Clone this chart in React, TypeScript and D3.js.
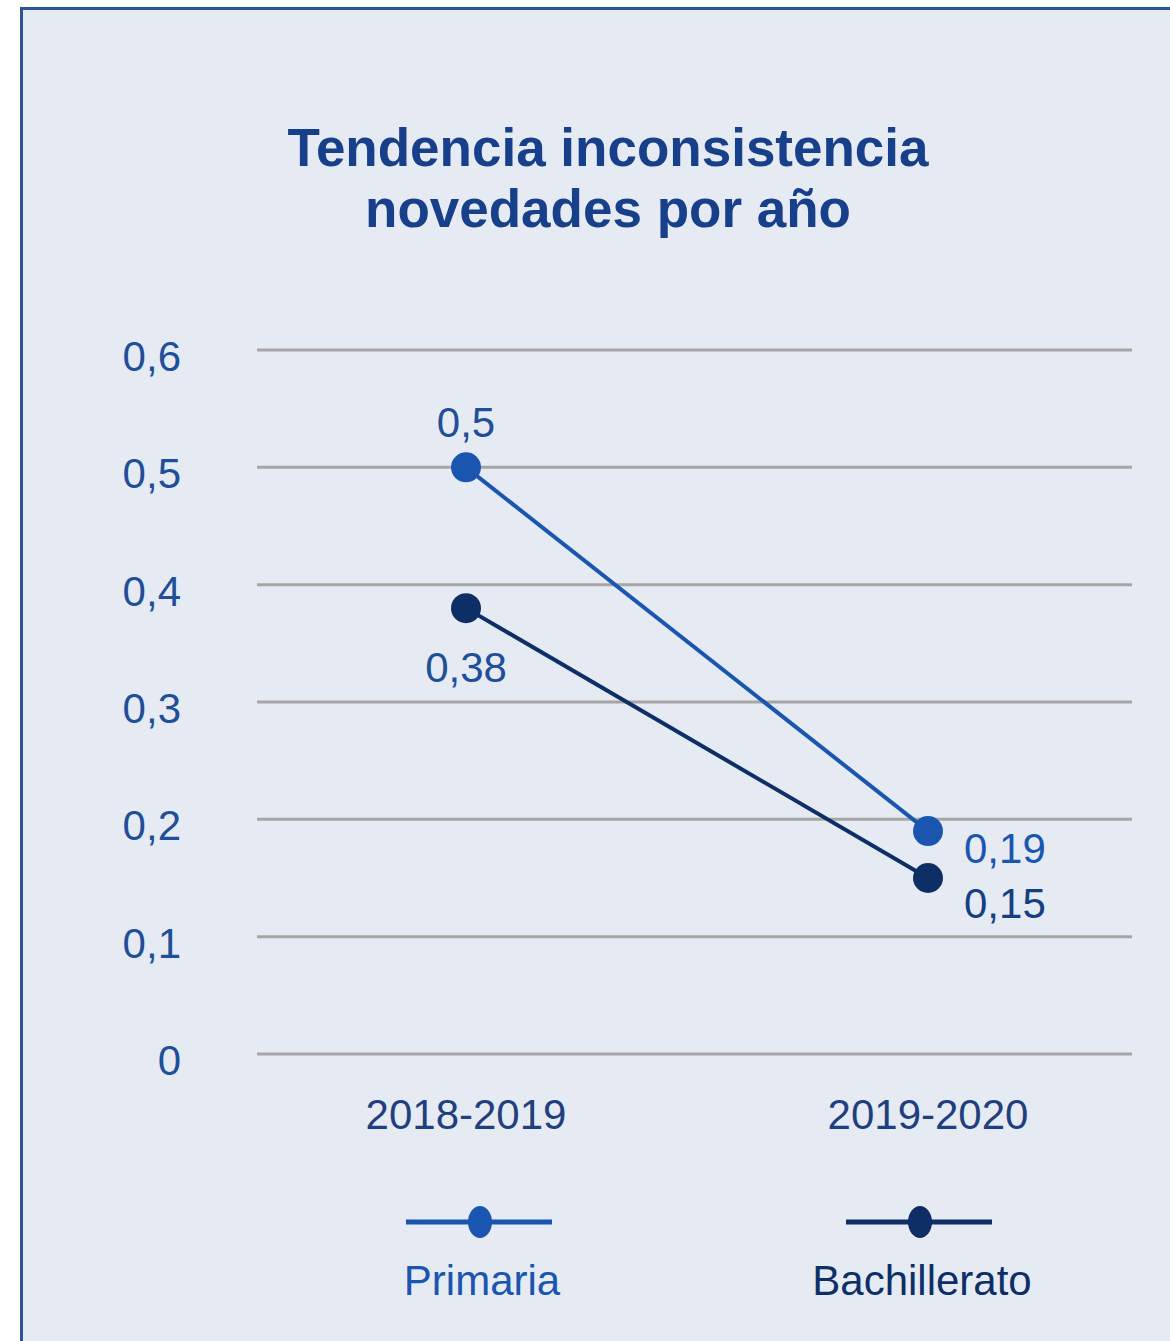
import React from "react";
import * as d3 from "d3";

const categories = ["2018-2019", "2019-2020"];
const seriesNames = ["Primaria", "Bachillerato"];
const primariaValues = [0.5, 0.19];
const bachilleratoValues = [0.38, 0.15];
const yTicks = [0, 0.1, 0.2, 0.3, 0.4, 0.5, 0.6];
const titleLines = ["Tendencia inconsistencia", "novedades por año"];

const W = 1170;
const H = 1341;
const FONT = "'Liberation Sans', Arial, Helvetica, sans-serif";
const FS = 42;
const C_PRIM = "#1a56b0";
const C_BACH = "#0d2f66";
const fmt = (v: number) => String(v).replace(".", ",");

export default function App() {
  const x = d3.scalePoint<string>().domain(categories).range([466, 928]);
  const y = d3.scaleLinear().domain([0, 0.6]).range([1054, 350]);
  const line = d3
    .line<number>()
    .x((_, i) => x(categories[i]) as number)
    .y((d) => y(d));

  const series = [
    { name: seriesNames[0], values: primariaValues, color: C_PRIM },
    { name: seriesNames[1], values: bachilleratoValues, color: C_BACH },
  ];

  // value label placement per point: [dx, dy, anchor, color]
  const labelPos: [number, number, string, string][][] = [
    [
      [0, -30, "middle", "#1f4f99"],
      [36, 32, "start", "#1a56b0"],
    ],
    [
      [0, 74, "middle", "#1f4f99"],
      [36, 40, "start", "#143f82"],
    ],
  ];

  const legendX = [480, 920];

  return (
    <div style={{ position: "absolute", left: 0, top: 0 }}>
      <svg width={W} height={H} style={{ display: "block" }}>
        <rect x={0} y={0} width={W} height={H} fill="#ffffff" />
        <rect
          x={21.5}
          y={8.5}
          width={W + 20}
          height={H + 20}
          fill="#e6ebf3"
          stroke="#2a5599"
          strokeWidth={3}
        />
        {titleLines.map((t, i) => (
          <text
            key={t}
            x={608}
            y={166 + i * 61}
            textAnchor="middle"
            fontFamily={FONT}
            fontWeight="bold"
            fontSize={53}
            fill="#173f8a"
          >
            {t}
          </text>
        ))}
        {yTicks.map((t) => (
          <g key={t}>
            <line
              x1={257}
              x2={1132}
              y1={y(t)}
              y2={y(t)}
              stroke="#a6a6a6"
              strokeWidth={3}
            />
            <text
              x={181}
              y={y(t) + 21}
              textAnchor="end"
              fontFamily={FONT}
              fontSize={FS}
              fill="#1f4f99"
            >
              {fmt(t)}
            </text>
          </g>
        ))}
        {categories.map((c) => (
          <text
            key={c}
            x={x(c)}
            y={1129}
            textAnchor="middle"
            fontFamily={FONT}
            fontSize={FS}
            fill="#1f3f7f"
          >
            {c}
          </text>
        ))}
        {series.map((s, si) => (
          <g key={s.name}>
            <path
              d={line(s.values) || ""}
              fill="none"
              stroke={s.color}
              strokeWidth={4}
            />
            {s.values.map((v, i) => (
              <circle
                key={i}
                cx={x(categories[i])}
                cy={y(v)}
                r={15}
                fill={s.color}
              />
            ))}
            {s.values.map((v, i) => {
              const [dx, dy, anchor, col] = labelPos[si][i];
              return (
                <text
                  key={"l" + i}
                  x={(x(categories[i]) as number) + dx}
                  y={y(v) + dy}
                  textAnchor={anchor as any}
                  fontFamily={FONT}
                  fontSize={FS}
                  fill={col}
                >
                  {fmt(v)}
                </text>
              );
            })}
            <line
              x1={legendX[si] - 74}
              x2={legendX[si] + 72}
              y1={1222}
              y2={1222}
              stroke={s.color}
              strokeWidth={5}
            />
            <ellipse cx={legendX[si]} cy={1222} rx={12} ry={16} fill={s.color} />
            <text
              x={legendX[si] + 2}
              y={1295}
              textAnchor="middle"
              fontFamily={FONT}
              fontSize={FS}
              fill={s.color}
            >
              {s.name}
            </text>
          </g>
        ))}
      </svg>
    </div>
  );
}
